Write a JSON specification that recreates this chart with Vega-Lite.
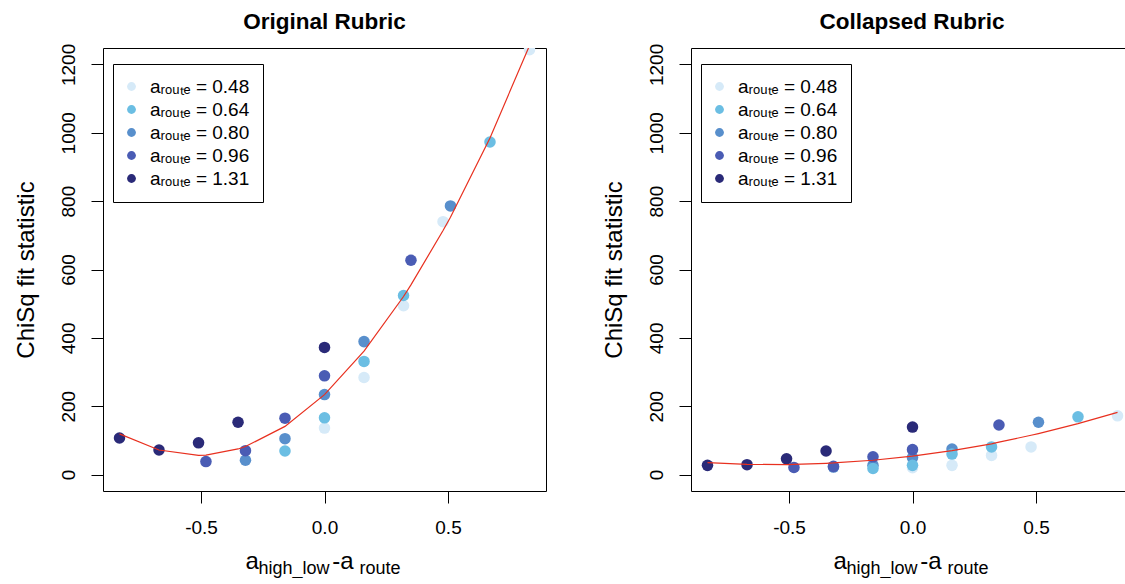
{
  "$schema": "https://vega.github.io/schema/vega-lite/v6.json",
  "background": "white",
  "padding": {"left": 13, "top": 10, "right": 0, "bottom": 0},
  "spacing": 54,
  "config": {
    "font": "Liberation Sans",
    "view": {"stroke": "black", "strokeWidth": 1},
    "title": {"font": "Liberation Sans", "fontSize": 22.5, "fontWeight": "bold", "color": "black"},
    "axis": {"labelFont": "Liberation Sans", "titleFont": "Liberation Sans", "labelColor": "black", "titleColor": "black", "tickColor": "black", "domain": false, "grid": false, "titleFontWeight": "normal"}
  },
  "resolve": {"legend": {"color": "independent"}},
  "datasets": {
    "orig": [
      {"a_route": "0.48", "diff": 0, "chisq": 136}, {"a_route": "0.48", "diff": 0.16, "chisq": 284}, {"a_route": "0.48", "diff": 0.32, "chisq": 494}, {"a_route": "0.48", "diff": 0.48, "chisq": 740}, {"a_route": "0.48", "diff": 0.83, "chisq": 1243},
      {"a_route": "1.31", "diff": -0.83, "chisq": 107}, {"a_route": "1.31", "diff": -0.67, "chisq": 72}, {"a_route": "1.31", "diff": -0.51, "chisq": 93}, {"a_route": "1.31", "diff": -0.35, "chisq": 153}, {"a_route": "1.31", "diff": 0, "chisq": 372},
      {"a_route": "0.80", "diff": -0.32, "chisq": 42}, {"a_route": "0.80", "diff": -0.16, "chisq": 105}, {"a_route": "0.80", "diff": 0, "chisq": 234}, {"a_route": "0.80", "diff": 0.16, "chisq": 389}, {"a_route": "0.80", "diff": 0.51, "chisq": 786},
      {"a_route": "0.96", "diff": -0.48, "chisq": 38}, {"a_route": "0.96", "diff": -0.32, "chisq": 70}, {"a_route": "0.96", "diff": -0.16, "chisq": 165}, {"a_route": "0.96", "diff": 0, "chisq": 289}, {"a_route": "0.96", "diff": 0.35, "chisq": 627},
      {"a_route": "0.64", "diff": -0.16, "chisq": 69}, {"a_route": "0.64", "diff": 0, "chisq": 166}, {"a_route": "0.64", "diff": 0.16, "chisq": 331}, {"a_route": "0.64", "diff": 0.32, "chisq": 524}, {"a_route": "0.64", "diff": 0.67, "chisq": 973}
    ],
    "coll": [
      {"a_route": "0.48", "diff": 0, "chisq": 20}, {"a_route": "0.48", "diff": 0.16, "chisq": 27}, {"a_route": "0.48", "diff": 0.32, "chisq": 56}, {"a_route": "0.48", "diff": 0.48, "chisq": 81}, {"a_route": "0.48", "diff": 0.83, "chisq": 172},
      {"a_route": "1.31", "diff": -0.83, "chisq": 27}, {"a_route": "1.31", "diff": -0.67, "chisq": 29}, {"a_route": "1.31", "diff": -0.51, "chisq": 46}, {"a_route": "1.31", "diff": -0.35, "chisq": 69}, {"a_route": "1.31", "diff": 0, "chisq": 139},
      {"a_route": "0.80", "diff": -0.32, "chisq": 22}, {"a_route": "0.80", "diff": -0.16, "chisq": 27}, {"a_route": "0.80", "diff": 0, "chisq": 50}, {"a_route": "0.80", "diff": 0.16, "chisq": 75}, {"a_route": "0.80", "diff": 0.51, "chisq": 153},
      {"a_route": "0.96", "diff": -0.48, "chisq": 21}, {"a_route": "0.96", "diff": -0.32, "chisq": 24}, {"a_route": "0.96", "diff": -0.16, "chisq": 52}, {"a_route": "0.96", "diff": 0, "chisq": 73}, {"a_route": "0.96", "diff": 0.35, "chisq": 145},
      {"a_route": "0.64", "diff": -0.16, "chisq": 18}, {"a_route": "0.64", "diff": 0, "chisq": 27}, {"a_route": "0.64", "diff": 0.16, "chisq": 60}, {"a_route": "0.64", "diff": 0.32, "chisq": 81}, {"a_route": "0.64", "diff": 0.67, "chisq": 169}
    ],
    "origfit": [
      {"diff": -0.83, "chisq": 119}, {"diff": -0.67, "chisq": 72}, {"diff": -0.51, "chisq": 56}, {"diff": -0.48, "chisq": 57}, {"diff": -0.35, "chisq": 75}, {"diff": -0.32, "chisq": 82}, {"diff": -0.16, "chisq": 141}, {"diff": 0, "chisq": 234}, {"diff": 0.16, "chisq": 361}, {"diff": 0.32, "chisq": 521}, {"diff": 0.35, "chisq": 555}, {"diff": 0.48, "chisq": 714}, {"diff": 0.51, "chisq": 753}, {"diff": 0.67, "chisq": 985}, {"diff": 0.83, "chisq": 1255}
    ],
    "collfit": [
      {"diff": -0.83, "chisq": 35}, {"diff": -0.67, "chisq": 30}, {"diff": -0.51, "chisq": 29}, {"diff": -0.48, "chisq": 30}, {"diff": -0.35, "chisq": 33}, {"diff": -0.32, "chisq": 34}, {"diff": -0.16, "chisq": 42}, {"diff": 0, "chisq": 54}, {"diff": 0.16, "chisq": 70}, {"diff": 0.32, "chisq": 90}, {"diff": 0.35, "chisq": 95}, {"diff": 0.48, "chisq": 115}, {"diff": 0.51, "chisq": 120}, {"diff": 0.67, "chisq": 149}, {"diff": 0.83, "chisq": 182}
    ]
  },
  "hconcat": [
    {
      "width": 443,
      "height": 443,
      "title": {"text": "Original Rubric", "frame": "group", "offset": -8, "baseline": "alphabetic"},
      "resolve": {"axis": {"x": "independent"}},
      "layer": [
        {
          "data": {"name": "orig"},
          "mark": {"type": "circle", "size": 133, "opacity": 1, "clip": true},
          "encoding": {
            "x": {"field": "diff", "type": "quantitative",
              "scale": {"domain": [-0.8968, 0.8968], "nice": false, "zero": false},
              "axis": {"orient": "bottom", "values": [-0.5, 0, 0.5], "labelExpr": "datum.value < 0 ? '-' + format(-datum.value, '.1f') : format(datum.value, '.1f')", "labelFontSize": 19, "labelBaseline": "alphabetic", "labelPadding": 30.5, "tickSize": 12, "labelFlush": false, "title": "a\u00a0\u00a0\u00a0\u00a0\u00a0\u00a0\u00a0\u00a0\u00a0\u00a0\u00a0-a", "titleFontSize": 24, "titleX": 142, "titleY": 77, "titleAlign": "left", "titleBaseline": "alphabetic"}},
            "y": {"field": "chisq", "type": "quantitative",
              "scale": {"domain": [-48, 1248], "nice": false, "zero": false},
              "axis": {"title": "ChiSq fit statistic", "values": [0, 200, 400, 600, 800, 1000, 1200], "format": "d", "labelAngle": -90, "labelAlign": "center", "labelBaseline": "alphabetic", "labelPadding": 17, "tickSize": 12, "labelFontSize": 19, "labelFlush": false, "labelOverlap": false, "titleFontSize": 24, "titleX": -70, "titleY": 221.5, "titleAngle": -90, "titleAlign": "center", "titleBaseline": "alphabetic"}},
            "color": {"field": "a_route", "type": "nominal",
              "scale": {"domain": ["0.48", "0.64", "0.80", "0.96", "1.31"], "range": ["#D6EAF8", "#6BBEE3", "#588FCC", "#4A5CB4", "#2A2A78"]},
              "legend": {"orient": "none", "legendX": 10, "legendY": 16, "title": null, "labelExpr": "'a\u1d63\u2092\u1d64\u209c\u2091 = ' + datum.label", "symbolType": "circle", "symbolSize": 78, "symbolStrokeWidth": 0, "symbolOffset": -4, "labelFontSize": 19, "labelFont": "Liberation Sans", "labelColor": "black", "rowPadding": 3, "padding": 13, "strokeColor": "black", "fillColor": "white", "labelOffset": 9, "labelLimit": 300}}
          }
        },
        {
          "data": {"name": "origfit"},
          "mark": {"type": "line", "color": "#E8301F", "strokeWidth": 1.2, "clip": true},
          "encoding": {
            "x": {"field": "diff", "type": "quantitative",
              "axis": {"orient": "bottom", "domain": false, "ticks": false, "labels": false, "grid": false, "title": "high_low\u00a0\u00a0\u00a0\u00a0\u00a0\u00a0route", "titleFontSize": 18, "titleX": 155, "titleY": 82, "titleAlign": "left", "titleBaseline": "alphabetic"}},
            "y": {"field": "chisq", "type": "quantitative", "title": "ChiSq fit statistic"}
          }
        }
      ]
    },
    {
      "width": 434,
      "height": 443,
      "title": {"text": "Collapsed Rubric", "frame": "group", "offset": -8, "baseline": "alphabetic", "dx": 4},
      "resolve": {"axis": {"x": "independent"}},
      "layer": [
        {
          "data": {"name": "coll"},
          "mark": {"type": "circle", "size": 133, "opacity": 1, "clip": true},
          "encoding": {
            "x": {"field": "diff", "type": "quantitative",
              "scale": {"domain": [-0.8968, 0.8603], "nice": false, "zero": false},
              "axis": {"orient": "bottom", "values": [-0.5, 0, 0.5], "labelExpr": "datum.value < 0 ? '-' + format(-datum.value, '.1f') : format(datum.value, '.1f')", "labelFontSize": 19, "labelBaseline": "alphabetic", "labelPadding": 30.5, "tickSize": 12, "labelFlush": false, "title": "a\u00a0\u00a0\u00a0\u00a0\u00a0\u00a0\u00a0\u00a0\u00a0\u00a0\u00a0-a", "titleFontSize": 24, "titleX": 142, "titleY": 77, "titleAlign": "left", "titleBaseline": "alphabetic"}},
            "y": {"field": "chisq", "type": "quantitative",
              "scale": {"domain": [-48, 1248], "nice": false, "zero": false},
              "axis": {"title": "ChiSq fit statistic", "values": [0, 200, 400, 600, 800, 1000, 1200], "format": "d", "labelAngle": -90, "labelAlign": "center", "labelBaseline": "alphabetic", "labelPadding": 17, "tickSize": 12, "labelFontSize": 19, "labelFlush": false, "labelOverlap": false, "titleFontSize": 24, "titleX": -70, "titleY": 221.5, "titleAngle": -90, "titleAlign": "center", "titleBaseline": "alphabetic"}},
            "color": {"field": "a_route", "type": "nominal",
              "scale": {"domain": ["0.48", "0.64", "0.80", "0.96", "1.31"], "range": ["#D6EAF8", "#6BBEE3", "#588FCC", "#4A5CB4", "#2A2A78"]},
              "legend": {"orient": "none", "legendX": 10, "legendY": 16, "title": null, "labelExpr": "'a\u1d63\u2092\u1d64\u209c\u2091 = ' + datum.label", "symbolType": "circle", "symbolSize": 78, "symbolStrokeWidth": 0, "symbolOffset": -4, "labelFontSize": 19, "labelFont": "Liberation Sans", "labelColor": "black", "rowPadding": 3, "padding": 13, "strokeColor": "black", "fillColor": "white", "labelOffset": 9, "labelLimit": 300}}
          }
        },
        {
          "data": {"name": "collfit"},
          "mark": {"type": "line", "color": "#E8301F", "strokeWidth": 1.2, "clip": true},
          "encoding": {
            "x": {"field": "diff", "type": "quantitative",
              "axis": {"orient": "bottom", "domain": false, "ticks": false, "labels": false, "grid": false, "title": "high_low\u00a0\u00a0\u00a0\u00a0\u00a0\u00a0route", "titleFontSize": 18, "titleX": 155, "titleY": 82, "titleAlign": "left", "titleBaseline": "alphabetic"}},
            "y": {"field": "chisq", "type": "quantitative", "title": "ChiSq fit statistic"}
          }
        }
      ]
    }
  ]
}
